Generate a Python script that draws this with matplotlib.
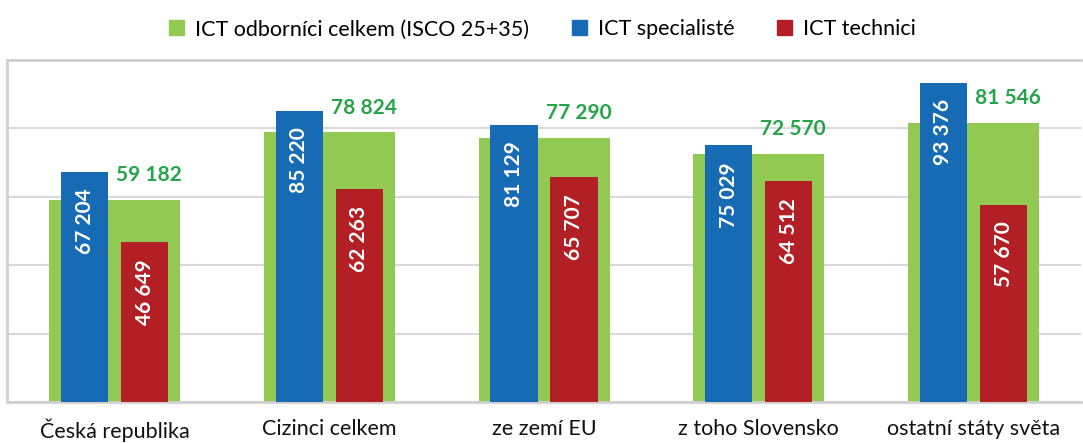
import numpy as np
import matplotlib.pyplot as plt
from matplotlib.patches import Patch

# --- Data ---
categories = ['Česká republika', 'Cizinci celkem', 'ze zemí EU', 'z toho Slovensko', 'ostatní státy světa']
ict_total = [59182, 78824, 77290, 72570, 81546]
ict_specialists = [67204, 85220, 81129, 75029, 93376]
ict_technicians = [46649, 62263, 65707, 64512, 57670]

series_names = ['ICT odborníci celkem (ISCO 25+35)', 'ICT specialisté', 'ICT technici']

# --- Style ---
GREEN = '#92C953'
BLUE = '#176AB4'
RED = '#B21F24'
LABEL_GREEN = '#24A548'
GRID = '#D9D9D9'

plt.rcParams['font.family'] = ['Lato', 'DejaVu Sans']


def fmt(v):
    return f'{v:,}'.replace(',', ' ')


fig = plt.figure(figsize=(10.83, 4.43), dpi=100)
ax = fig.add_axes([0.0067, 0.0926, 0.9913, 0.772])

x = np.arange(len(categories))
off = 0.14
w_small = 0.22

ax.bar(x, ict_total, width=0.61, color=GREEN, zorder=2)
ax.bar(x - off, ict_specialists, width=w_small, color=BLUE, zorder=3)
ax.bar(x + off, ict_technicians, width=w_small, color=RED, zorder=3)

# --- Value labels ---
for i in range(len(categories)):
    ax.annotate(fmt(ict_total[i]), (x[i] + off + 0.02, ict_total[i]),
                xytext=(0, 13.5), textcoords='offset points',
                ha='center', va='baseline', color=LABEL_GREEN,
                fontsize=15, fontweight='bold', zorder=4)
    ax.annotate(fmt(ict_specialists[i]), (x[i] - off, ict_specialists[i]),
                xytext=(0, -12), textcoords='offset points', rotation=90,
                ha='center', va='top', color='white',
                fontsize=15, fontweight='bold', zorder=4)
    ax.annotate(fmt(ict_technicians[i]), (x[i] + off, ict_technicians[i]),
                xytext=(0, -12), textcoords='offset points', rotation=90,
                ha='center', va='top', color='white',
                fontsize=15, fontweight='bold', zorder=4)

# --- Axes ---
ax.set_xlim(-0.5, 4.5)
ax.set_ylim(0, 100000)
ax.set_yticks(np.arange(0, 100001, 20000))
ax.set_yticklabels([])
ax.tick_params(axis='y', length=0)
ax.set_xticks(x)
ax.set_xticklabels(categories, fontsize=15.5, color='#111111')
ax.tick_params(axis='x', length=0, pad=12)
ax.grid(axis='y', color=GRID, linewidth=1.5, zorder=0)
for s in ax.spines.values():
    s.set_color('#D0D0D0')
    s.set_linewidth(2)
ax.spines['right'].set_visible(False)

# --- Legend ---
handles = [Patch(color=c) for c in (GREEN, BLUE, RED)]
fig.legend(handles, series_names, loc='upper center', bbox_to_anchor=(0.501, 1.0),
           ncol=3, frameon=False, fontsize=15.5, handlelength=0.7, handleheight=0.7,
           handletextpad=0.5, columnspacing=2.0)

fig.savefig('out.png', dpi=100)
